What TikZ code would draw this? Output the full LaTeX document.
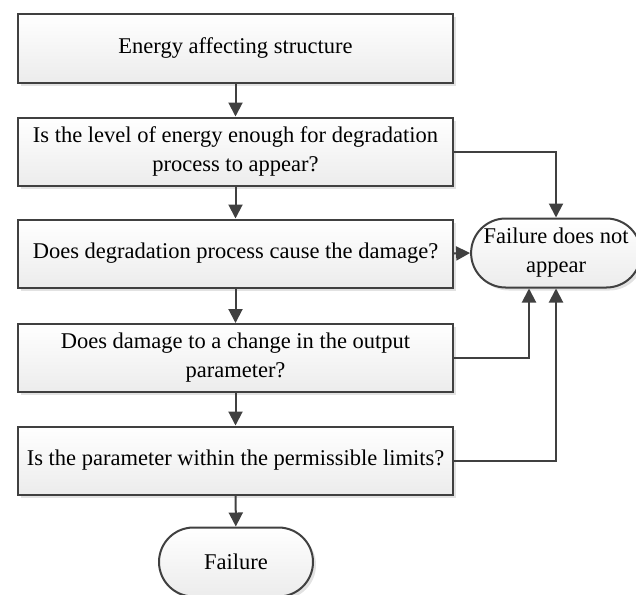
\documentclass[tikz,border=0pt]{standalone}
\usepackage{fontspec}
\setmainfont{Liberation Serif}
\usetikzlibrary{arrows.meta,shadows,shapes.misc}
\definecolor{linie}{HTML}{404040}
\tikzset{
  kasten/.style={draw=linie, line width=2pt, shading=axis, top color=white, bottom color=gray!15,
    drop shadow={shadow xshift=3pt, shadow yshift=-3pt, fill=gray!45},
    minimum width=435pt, minimum height=68pt, align=center, inner sep=2pt,
    font=\fontsize{22.5}{29}\selectfont},
  ende/.style={kasten, rounded rectangle, minimum width=158pt, minimum height=69pt},
  pfeil/.style={draw=linie, line width=2pt, -{Triangle[length=14pt,width=14pt]}}
}
\begin{document}
\begin{tikzpicture}[x=1pt, y=-1pt]
            \useasboundingbox (0,0) rectangle (636,594);
            % Kaesten
            \node [kasten] (energie) at (235.5, 48.5) {Energy affecting structure};
            \node [kasten] (niveau) at (235.5, 151.5) {Is the level of energy enough for degradation\\process to appear?};
            \node [kasten] (schaden) at (235.5, 253.5) {Does degradation process cause the damage?};
            \node [kasten] (ausgang) at (235.5, 358) {Does damage to a change in the output\\parameter?};
            \node [kasten] (grenzen) at (235.5, 460.5) {Is the parameter within the permissible limits?};
            \node [ende] (ausfall) at (236, 562) {Failure};
            \node [ende] (keinausfall) at (556, 253) {Failure does not\\appear};
            % Pfeile
            \draw [pfeil] (energie) -- (niveau);
            \draw [pfeil] (niveau) -- (schaden);
            \draw [pfeil] (schaden) -- (ausgang);
            \draw [pfeil] (ausgang) -- (grenzen);
            \draw [pfeil] (grenzen) -- (ausfall);
            \draw [pfeil] (niveau.east) -| (keinausfall.north);
            \draw [pfeil] (schaden.east) -- (keinausfall.west);
            \draw [pfeil] (ausgang.east) -| ([xshift=-27pt]keinausfall.south);
            \draw [pfeil] (grenzen.east) -| (keinausfall.south);
        \end{tikzpicture}
\end{document}
